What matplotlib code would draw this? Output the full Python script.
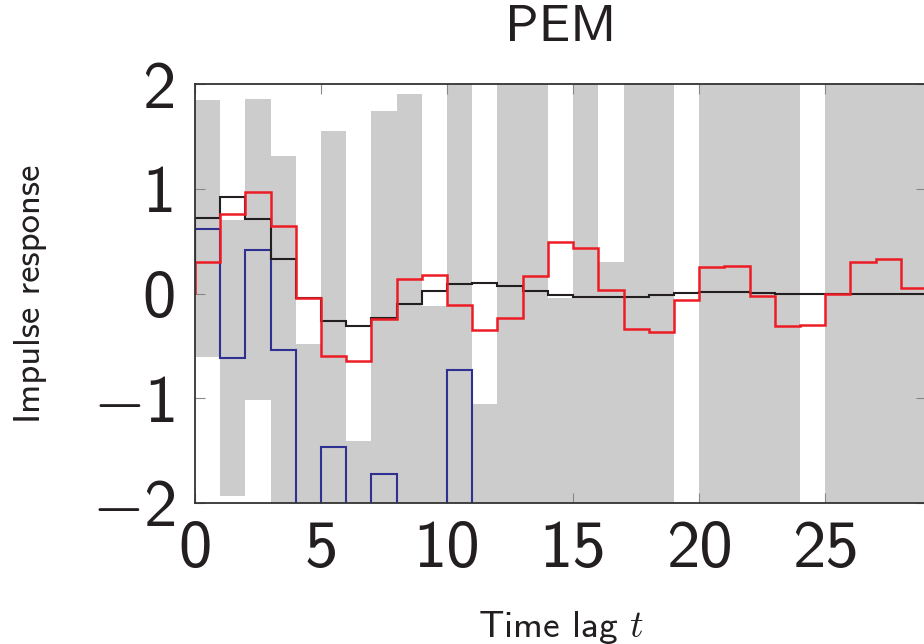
import numpy as np
import matplotlib
matplotlib.use("Agg")
import matplotlib.pyplot as plt

plt.rcParams['mathtext.fontset'] = 'cm'
plt.rcParams['font.family'] = ['cmss10', 'DejaVu Sans']
plt.rcParams['axes.unicode_minus'] = False

# ---- data (bins are [k, k+1) for lag k) ----
lags = np.arange(30)  # bin edges 0..29
ci_upper = [1.85, 0.70, 1.855, 1.31, -0.48, 1.55, -1.41, 1.745, 1.90, -0.124,
            2.6, -1.055, 2.6, 2.6, -0.045, 2.6, 0.296, 2.6, 2.6, np.nan,
            2.6, 2.6, 2.6, 2.6, np.nan, 2.6, 2.6, 2.6, 2.6]
ci_lower = [-0.61, -1.93, -1.015, -2.6, -2.6, -2.6, -2.6, -2.6, -2.6, -2.6,
            -2.6, -2.6, -2.6, -2.6, -2.6, -2.6, -2.6, -2.6, -2.6, np.nan,
            -2.6, -2.6, -2.6, -2.6, np.nan, -2.6, -2.6, -2.6, -2.6]
true_ir = [0.72, 0.92, 0.715, 0.33, -0.04, -0.26, -0.31, -0.23, -0.10, 0.025,
           0.09, 0.105, 0.07, 0.025, -0.013, -0.035, -0.035, -0.03, -0.013, 0.003,
           0.013, 0.01, 0.003, -0.003, -0.006, -0.006, -0.005, -0.003, 0.0]
red_ir = [0.30, 0.76, 0.965, 0.645, -0.045, -0.60, -0.645, -0.245, 0.14, 0.175,
          -0.11, -0.347, -0.235, 0.165, 0.49, 0.433, 0.035, -0.34, -0.366, -0.06,
          0.251, 0.264, -0.022, -0.309, -0.302, -0.003, 0.305, 0.325, 0.051]
pem_ir = [0.62, -0.611, 0.417, -0.544, -3.0, -1.467, -3.0, -1.72, -3.0, -3.0,
          -0.726, -3.0, -3.0, -3.0, -3.0, -3.0, -3.0, -3.0, -3.0, -3.0,
          -3.0, -3.0, -3.0, -3.0, -3.0, -3.0, -3.0, -3.0, -3.0]
xticks = [0, 5, 10, 15, 20, 25]
yticks = [-2, -1, 0, 1, 2]
xticklabels = ['0', '5', '10', '15', '20', '25']
yticklabels = [r'$-$2', r'$-$1', '0', '1', '2']

fig = plt.figure(figsize=(9.24, 6.44), dpi=100)
ax = fig.add_axes([195/924, 141/644, 731/924, 419/644])

lo = np.array(ci_lower, dtype=float)
hi = np.array(ci_upper, dtype=float)
ax.bar(lags[:-1], hi - lo, bottom=lo, width=1.0, align='edge',
       color='#cccccc', linewidth=0, zorder=1)

ax.stairs(pem_ir, lags, color='#2e3192', linewidth=1.5, zorder=3)
ax.stairs(true_ir, lags, color='#231f20', linewidth=1.5, zorder=4)
ax.stairs(red_ir, lags, color='#ed1c24', linewidth=1.8, zorder=5)

ax.set_xlim(0, 29)
ax.set_ylim(-2, 2)
ax.set_xticks(xticks)
ax.set_xticklabels(xticklabels)
ax.set_yticks(yticks)
ax.set_yticklabels(yticklabels)
ax.tick_params(direction='in', length=7.2, width=0.8, color='#888888',
               labelsize=48, labelcolor='#231f20', top=True, right=True)
ax.tick_params(axis='x', pad=12)
ax.tick_params(axis='y', pad=14)
for s in ax.spines.values():
    s.set_linewidth(1.3)
    s.set_color('#333333')
    s.set_zorder(6)

ax.set_title('PEM', fontsize=38, color='#231f20', pad=31)
ax.set_xlabel(r'Time lag $t$', fontsize=27, color='#231f20', labelpad=21)
ax.set_ylabel('Impulse response', fontsize=26.5, color='#231f20', labelpad=32)

fig.savefig('out.png', dpi=100)
